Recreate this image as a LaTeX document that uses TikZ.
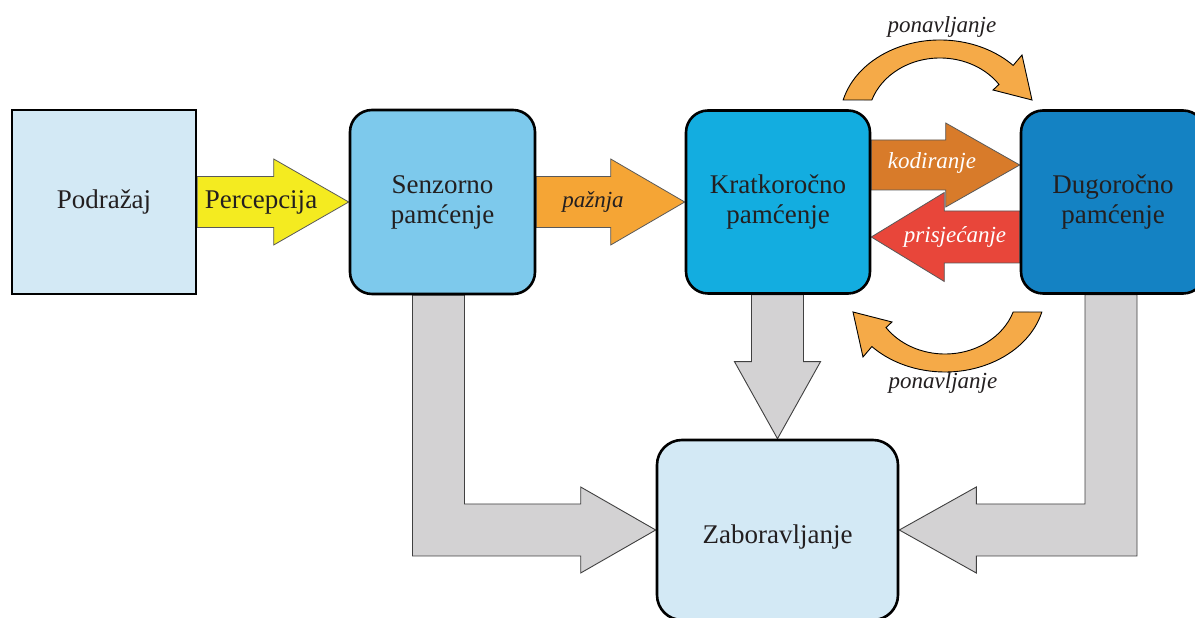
\documentclass[tikz,border=0pt]{standalone}
\usepackage{fontspec}
\setmainfont{Liberation Serif}
\usetikzlibrary{calc,backgrounds}
\definecolor{boxlight}{HTML}{D3E9F5}
\definecolor{senzcol}{HTML}{7DC9EC}
\definecolor{kratcol}{HTML}{13ADE0}
\definecolor{dugcol}{HTML}{1482C3}
\definecolor{yelcol}{HTML}{F4EB20}
\definecolor{oracol}{HTML}{F5A535}
\definecolor{kodcol}{HTML}{D87B2A}
\definecolor{redcol}{HTML}{E8463A}
\definecolor{curvcol}{HTML}{F5AA48}
\definecolor{graycol}{HTML}{D3D2D3}
\definecolor{txtcol}{HTML}{231F20}
% #1 style, #2 tail point, #3 tip point, #4 shaft half width, #5 head half width, #6 vector tip -> head base
\newcommand\hblockarrow[6]{%
  \path[#1] let \p1=#2, \p2=#3, \p3=($#3+#6$) in
    (\x1,\y2+#4) -- (\x3,\y2+#4) -- (\x3,\y2+#5) -- (\x2,\y2) --
    (\x3,\y2-#5) -- (\x3,\y2-#4) -- (\x1,\y2-#4) -- cycle;}
\begin{document}
\begin{tikzpicture}[x=1pt,y=1pt,
  memory/.style={draw=black, line width=2.6pt, rounded corners=22pt, align=center,
    font=\fontsize{27}{30}\selectfont, text=txtcol, inner sep=0pt,
    minimum width=184pt, minimum height=184pt},
  blockarrow/.style={draw=black!65, line width=0.8pt},
  grayarrow/.style={fill=graycol, draw=black!75, line width=0.9pt},
  curved/.style={fill=curvcol, draw=black, line width=0.9pt},
  lbl/.style={font=\fontsize{27}{30}\selectfont, text=txtcol, inner sep=0pt},
  ilbl/.style={font=\fontsize{23}{26}\selectfont\itshape, text=txtcol, inner sep=0pt}]
\useasboundingbox (0,0) rectangle (1195,618);
\clip (0,0) rectangle (1195,618);

% boxes
\node[memory, sharp corners, fill=boxlight] (pod) at (104,416) {Podražaj};
\node[memory, fill=senzcol, minimum width=185pt] (senz) at (442.5,416) {Senzorno\\pamćenje};
\node[memory, fill=kratcol, minimum height=183pt] (krat) at (778,416) {Kratkoročno\\pamćenje};
\node[memory, fill=dugcol, minimum height=183pt] (dug) at (1113,416) {Dugoročno\\pamćenje};
\node[memory, fill=boxlight, minimum width=241pt, minimum height=180pt, rounded corners=25pt,
      text height=34pt, text depth=6pt] (zab) at (777.5,88) {Zaboravljanje};

\coordinate (kodtip) at ($(dug.west)+(0,37)$);
\coordinate (pristip) at ($(krat.east)+(0,-35)$);

\begin{scope}[on background layer]
  \fill[white] (0,0) rectangle (1195,618);
  % grey arrows to forgetting
  \path[grayarrow] let \p1=(senz.south), \p2=(zab.west) in
    (\x1-30pt,\y1) -- (\x1+22pt,\y1) -- (\x1+22pt,\y2+26pt) -- (\x2-75pt,\y2+26pt) --
    (\x2-75pt,\y2+43pt) -- (\x2,\y2) -- (\x2-75pt,\y2-43pt) -- (\x2-75pt,\y2-26pt) --
    (\x1-30pt,\y2-26pt) -- cycle;
  \path[grayarrow] let \p1=(dug.south), \p2=(zab.east) in
    (\x1-28pt,\y1) -- (\x1+24pt,\y1) -- (\x1+24pt,\y2-26pt) -- (\x2+77pt,\y2-26pt) --
    (\x2+77pt,\y2-43pt) -- (\x2,\y2) -- (\x2+77pt,\y2+43pt) -- (\x2+77pt,\y2+26pt) --
    (\x1-28pt,\y2+26pt) -- cycle;
  \path[grayarrow] let \p1=(krat.south), \p2=(zab.north) in
    (\x2-26pt,\y1) -- (\x2+26pt,\y1) -- (\x2+26pt,\y2+77pt) -- (\x2+43pt,\y2+77pt) --
    (\x2,\y2) -- (\x2-43pt,\y2+77pt) -- (\x2-26pt,\y2+77pt) -- cycle;
  % horizontal block arrows
  \hblockarrow{blockarrow, fill=yelcol}{(pod.east)}{(senz.west)}{25.5pt}{43pt}{(-75,0)}
  \hblockarrow{blockarrow, fill=oracol}{(senz.east)}{(krat.west)}{25.5pt}{43pt}{(-74,0)}
  \hblockarrow{blockarrow, fill=kodcol}{(krat.east)}{(kodtip)}{25pt}{42pt}{(-74,0)}
  \hblockarrow{blockarrow, fill=redcol}{(dug.west)}{(pristip)}{26pt}{44.5pt}{(73,0)}
  % rehearsal arrows
  \path[curved] (843.18,518.03) arc[start angle=165.5, end angle=43, x radius=100, y radius=80]
    -- (1022,563) -- (1032,518) -- (993,528) -- (998.98,533.56)
    arc[start angle=35, end angle=161.2, x radius=72, y radius=62] -- cycle;
  \path[curved] (1041.82,305.97) arc[start angle=345.5, end angle=223, x radius=100, y radius=80]
    -- (863,261) -- (853,306) -- (892,296) -- (886.02,290.44)
    arc[start angle=215, end angle=341.2, x radius=72, y radius=62] -- cycle;
\end{scope}

% labels
\node[lbl] (perc) at (261,416) {Percepcija};
\node[ilbl] (paz) at (593,416) {pažnja};
\node[ilbl, text=white] (kod) at (932,455) {kodiranje};
\node[ilbl, text=white] (pris) at (955,381) {prisjećanje};
\node[ilbl] (pon1) at (942,591) {ponavljanje};
\node[ilbl] (pon2) at (943,235) {ponavljanje};
\end{tikzpicture}
\end{document}
